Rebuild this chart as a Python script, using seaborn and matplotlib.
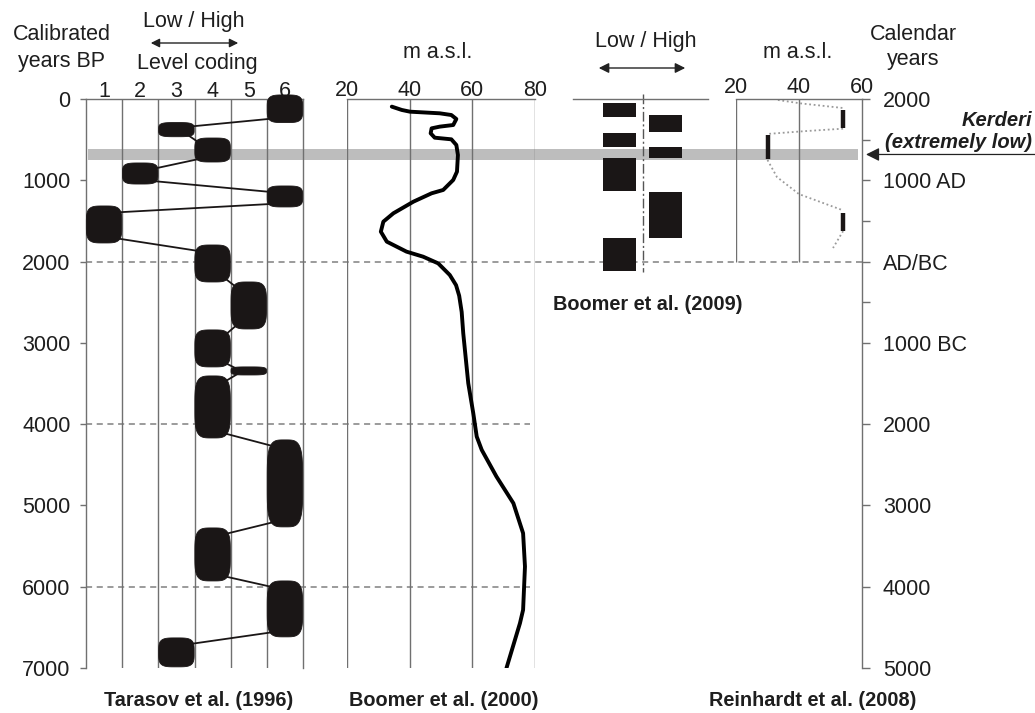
import numpy as np
import pandas as pd
import matplotlib
matplotlib.use("Agg")
import matplotlib.pyplot as plt
import seaborn as sns
from matplotlib.patches import Polygon

# ---------------- data ----------------
# Tarasov et al. (1996): level coding intervals (calibrated years BP)
tarasov_level = [6, 3, 4, 2, 6, 1, 4, 5, 4, 5, 4, 6, 4, 6, 3]
tarasov_start = [-50, 290, 480, 787, 1070, 1316, 1796, 2251, 2841, 3296, 3407, 4194, 5277, 5929, 6630]
tarasov_end = [290, 464, 775, 1046, 1328, 1771, 2251, 2829, 3296, 3395, 4170, 5264, 5929, 6617, 6986]
level_ticks = [1, 2, 3, 4, 5, 6]

# Boomer et al. (2000): lake level curve (m a.s.l.) vs years BP
boomer2000_masl = [34.3, 37.5, 40.1, 49.6, 53.3, 54.9, 53.9, 49.6, 47.0, 46.7, 48.0, 53.3, 54.9,
                   55.4, 55.1, 53.9, 50.7, 47.0, 41.2, 34.8, 31.6, 30.8, 32.7, 39.0, 44.3, 49.1,
                   52.8, 54.8, 55.8, 56.6, 57.1, 58.7, 60.3, 61.4, 63.0, 67.7, 73.1, 76.2, 76.8,
                   76.2, 75.2, 70.9]
boomer2000_bp = [94, 135, 156, 176, 197, 246, 320, 340, 361, 422, 476, 496, 566,
                 689, 894, 996, 1119, 1160, 1263, 1406, 1509, 1632, 1755, 1878, 1940, 2022,
                 2165, 2290, 2420, 2620, 2882, 3497, 3866, 4153, 4317, 4645, 4973, 5342, 5752,
                 6285, 6449, 7000]
masl_ticks_2000 = [20, 40, 60, 80]

# Boomer et al. (2009): low / high stands (years BP)
boomer2009_low_start = [49, 418, 726, 1710]
boomer2009_low_end = [221, 590, 1132, 2116]
boomer2009_high_start = [197, 590, 1144]
boomer2009_high_end = [406, 726, 1710]

# Reinhardt et al. (2008): level estimates (m a.s.l.) and intervals (years BP)
reinhardt_masl = [54, 30, 54]
reinhardt_start = [135, 443, 1402]
reinhardt_end = [357, 738, 1624]
reinhardt_dot_seg = [1, 1, 1, 2, 2, 2, 3, 3, 3, 3, 4, 4]
reinhardt_dot_masl = [33.3, 40.3, 54, 54, 42, 30, 30, 33, 40, 54, 54, 50.8]
reinhardt_dot_bp = [12, 53, 111, 365, 395, 430, 750, 960, 1170, 1370, 1625, 1833]
masl_ticks_2008 = [20, 40, 60]

# Kerderi (extremely low) band, years BP
kerderi_start, kerderi_end = 615, 750

# axes
bp_ticks = [0, 1000, 2000, 3000, 4000, 5000, 6000, 7000]
cal_ticks_bp = [0, 1000, 2000, 3000, 4000, 5000, 6000, 7000]
cal_labels = ["2000", "1000 AD", "AD/BC", "1000 BC", "2000", "3000", "4000", "5000"]
cal_minor_bp = [500, 1500, 2500]
dashed_bp_full = [2000]
dashed_bp_short = [4000, 6000]

# ---------------- style ----------------
sns.set_theme(style="white")
plt.rcParams['font.family'] = ['Liberation Sans', 'DejaVu Sans']

W, H = 1035, 713
fig = plt.figure(figsize=(W / 100, H / 100), dpi=100)
TOP, BOT = 99, 668
GRID = '#707070'
INK = '#1a1616'
TXT = '#1e1e1e'
FS = 15.5


def rect(x0, x1, y0=TOP, y1=BOT):
    return [x0 / W, 1 - y1 / H, (x1 - x0) / W, (y1 - y0) / H]


def ftext(x, y, s, **kw):
    kw.setdefault('ha', 'center')
    kw.setdefault('va', 'center')
    kw.setdefault('fontsize', FS)
    kw.setdefault('color', TXT)
    fig.text(x / W, 1 - y / H, s, **kw)


def style_axes(ax):
    ax.set_ylim(7000, 0)
    ax.set_facecolor('none')
    ax.set_zorder(1)
    for sp in ax.spines.values():
        sp.set_color(GRID)
        sp.set_linewidth(1.0)
    ax.set_xlabel('')
    ax.set_ylabel('')


# background overlay: band + dashed lines
axb = fig.add_axes(rect(0, W))
axb.set_xlim(0, W)
axb.set_ylim(7000, 0)
axb.axis('off')
axb.set_zorder(0)
axb.axhspan(kerderi_start, kerderi_end, xmin=88 / W, xmax=858 / W, color='#bdbdbd', lw=0)
axb.hlines(dashed_bp_full, 86, 862, colors='#808080', linestyles=(0, (4, 3)), lw=1.1)
axb.hlines(dashed_bp_short, 86, 530, colors='#808080', linestyles=(0, (4, 3)), lw=1.1)
kmid = (kerderi_start + kerderi_end) / 2
axb.annotate('', xy=(866, kmid), xytext=(1040, kmid),
             arrowprops=dict(arrowstyle='-|>', color='#222222', lw=0.9, mutation_scale=20,
                             shrinkA=0, shrinkB=0), annotation_clip=False)

# ---------------- Tarasov panel ----------------
ax1 = fig.add_axes(rect(86, 303))
style_axes(ax1)
ax1.set_xlim(0.5, 6.5)
ax1.spines['bottom'].set_visible(False)
ax1.vlines(np.arange(1.5, 6.0, 1.0), 0, 7000, colors=GRID, lw=1.0)
ax1.xaxis.tick_top()
ax1.set_xticks(level_ticks)
ax1.set_xticklabels([str(v) for v in level_ticks])
ax1.tick_params(axis='x', length=0, pad=-2, labelsize=FS, labelcolor=TXT)
ax1.set_yticks(bp_ticks)
ax1.set_yticklabels([str(v) for v in bp_ticks])
ax1.tick_params(axis='y', left=True, direction='out', length=4, width=1, color=GRID,
                pad=7, labelsize=FS, labelcolor=TXT)


def blob(ax, lev, y0, y1, half=0.49, n=4.0):
    t = np.linspace(0, 2 * np.pi, 240)
    c, s = np.cos(t), np.sin(t)
    xs = lev + half * np.sign(c) * np.abs(c) ** (2 / n)
    ys = (y0 + y1) / 2 + (y1 - y0) / 2 * np.sign(s) * np.abs(s) ** (2 / n)
    ax.add_patch(Polygon(np.column_stack([xs, ys]), closed=True, fc=INK, ec=INK,
                         lw=0.6, clip_on=False, zorder=4))


for lev, a, b in zip(tarasov_level, tarasov_start, tarasov_end):
    blob(ax1, lev, a, b)

for i in range(len(tarasov_level) - 1):
    l0, l1 = tarasov_level[i], tarasov_level[i + 1]
    d = np.sign(l1 - l0)
    h0 = tarasov_end[i] - tarasov_start[i]
    h1 = tarasov_end[i + 1] - tarasov_start[i + 1]
    ya = tarasov_end[i] - min(0.15 * h0, 60)
    yb = tarasov_start[i + 1] + min(0.3 * h1, 80)
    ax1.plot([l0 + d * 0.3, l1 - d * 0.3], [ya, yb], color=INK, lw=1.3, zorder=3,
             clip_on=False)

# ---------------- Boomer 2000 panel ----------------
ax2 = fig.add_axes(rect(347, 535))
style_axes(ax2)
ax2.set_xlim(20, 80)
sns.lineplot(x=boomer2000_masl, y=boomer2000_bp, sort=False, estimator=None, ax=ax2,
             color='black', lw=2.8)
ax2.set_ylim(7000, 0)
ax2.set_xlim(20, 80)
for k in ['left', 'right', 'bottom']:
    ax2.spines[k].set_visible(False)
ax2.vlines(masl_ticks_2000, 0, 7000, colors=GRID, lw=1.0, zorder=1)
ax2.xaxis.tick_top()
ax2.set_xticks(masl_ticks_2000)
ax2.set_xticklabels([str(v) for v in masl_ticks_2000])
ax2.tick_params(axis='x', length=0, pad=-1.5, labelsize=FS, labelcolor=TXT)
ax2.set_yticks([])
ax2.set_xlabel('')
ax2.set_ylabel('')

# ---------------- Boomer 2009 panel ----------------
ax3 = fig.add_axes(rect(573, 708))
style_axes(ax3)
ax3.set_xlim(0, 1)
for k in ['left', 'right', 'bottom']:
    ax3.spines[k].set_visible(False)
ax3.set_xticks([])
ax3.set_yticks([])
low_h = np.array(boomer2009_low_end) - np.array(boomer2009_low_start)
high_h = np.array(boomer2009_high_end) - np.array(boomer2009_high_start)
ax3.bar(x=[0.345] * len(low_h), height=low_h, bottom=boomer2009_low_start, width=0.25,
        color=INK, lw=0, zorder=3)
ax3.bar(x=[0.685] * len(high_h), height=high_h, bottom=boomer2009_high_start, width=0.25,
        color=INK, lw=0, zorder=3)
ax3.vlines(0.52, -60, 2130, colors='#555555', linestyles=(0, (7, 2, 1.5, 2)), lw=1.0,
           clip_on=False, zorder=2)
ax3.set_ylim(7000, 0)

# ---------------- Reinhardt panel ----------------
ax4 = fig.add_axes(rect(736, 862))
style_axes(ax4)
ax4.set_xlim(20, 60)
for k in ['left', 'bottom']:
    ax4.spines[k].set_visible(False)
ax4.vlines([20, 40], 0, 2000, colors=GRID, lw=1.0)
dots = pd.DataFrame({'seg': reinhardt_dot_seg, 'masl': reinhardt_dot_masl,
                     'bp': reinhardt_dot_bp})
sns.lineplot(data=dots, x='masl', y='bp', units='seg', estimator=None, sort=False, ax=ax4,
             color='#9a9a9a', lw=1.3, linestyle=(0, (1, 1.5)))
ax4.vlines(reinhardt_masl, reinhardt_start, reinhardt_end, colors=INK, lw=3.2, zorder=4)
ax4.set_ylim(7000, 0)
ax4.set_xlim(20, 60)
ax4.set_xlabel('')
ax4.set_ylabel('')
ax4.xaxis.tick_top()
ax4.set_xticks(masl_ticks_2008)
ax4.set_xticklabels([str(v) for v in masl_ticks_2008])
ax4.tick_params(axis='x', length=0, pad=1, labelsize=FS, labelcolor=TXT)
ax4.yaxis.tick_right()
ax4.set_yticks(cal_ticks_bp)
ax4.set_yticklabels(cal_labels)
ax4.set_yticks(cal_minor_bp, minor=True)
ax4.tick_params(axis='y', which='both', right=True, direction='out', length=6, width=1,
                color=GRID, pad=9, labelsize=FS, labelcolor=TXT)

# ---------------- texts ----------------
ftext(62, 35, 'Calibrated')
ftext(62, 62, 'years BP')
ftext(194, 22, 'Low / High')
ftext(197, 64, 'Level coding')
fig.patches.append(matplotlib.patches.FancyArrowPatch(
    (148 / W, 1 - 43 / H), (241 / W, 1 - 43 / H), transform=fig.transFigure,
    arrowstyle='<|-|>', mutation_scale=13, color='#222222', lw=1.0))
ftext(438, 52, 'm a.s.l.')
ftext(646, 42, 'Low / High')
fig.patches.append(matplotlib.patches.FancyArrowPatch(
    (596 / W, 1 - 68 / H), (688 / W, 1 - 68 / H), transform=fig.transFigure,
    arrowstyle='<|-|>', mutation_scale=15, color='#222222', lw=1.0))
ftext(798, 52, 'm a.s.l.')
ftext(913, 35, 'Calendar')
ftext(913, 60, 'years')
ftext(1032, 120, 'Kerderi', ha='right', fontsize=14.5, fontweight='bold', style='italic')
ftext(1032, 143, '(extremely low)', ha='right', fontsize=14.5, fontweight='bold',
      style='italic')

BFS = 14.3
ftext(199, 700, 'Tarasov et al. (1996)', fontweight='bold', fontsize=BFS)
ftext(444, 700, 'Boomer et al. (2000)', fontweight='bold', fontsize=BFS)
ftext(813, 700, 'Reinhardt et al. (2008)', fontweight='bold', fontsize=BFS)
ftext(648, 305, 'Boomer et al. (2009)', fontweight='bold', fontsize=BFS)

fig.savefig('out.png', dpi=100, facecolor='white')
